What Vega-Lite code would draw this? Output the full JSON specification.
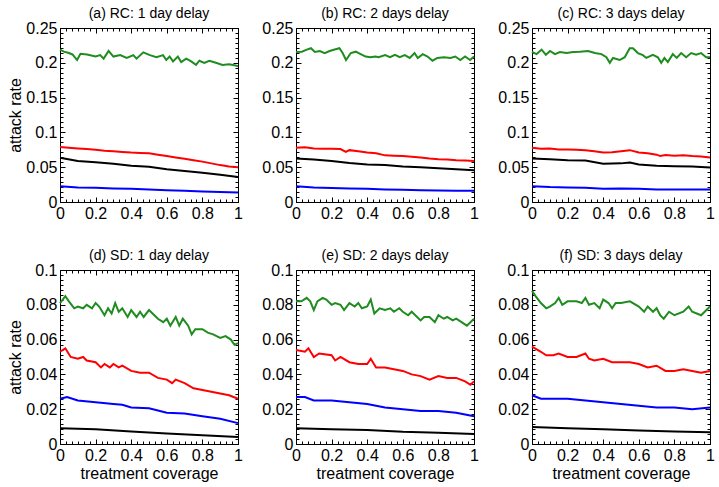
{
"$schema":"https://vega.github.io/schema/vega-lite/v6.json",
"padding":{"left":7,"top":6,"right":0,"bottom":0},
"config":{"font":"Liberation Sans","view":{"stroke":"#000","strokeWidth":1},
"axis":{"grid":false,"domainColor":"#000","tickColor":"#000","labelColor":"#000","labelFontSize":16,"labelFont":"Liberation Sans","titleFont":"Liberation Sans","titleFontSize":16,"titleFontWeight":"normal","titleColor":"#000","labelFlush":false,"labelOverlap":false,"tickWidth":1,"labelPadding":8,"titlePadding":2},
"axisBottom":{"titlePadding":0},
"title":{"fontSize":14,"fontWeight":"normal","font":"Liberation Sans","color":"#000","offset":-1}},
"data":{"values":[
{"p":"a","s":"g","x":0,"y":0.219},{"p":"a","s":"g","x":0.022,"y":0.216},{"p":"a","s":"g","x":0.05,"y":0.214},{"p":"a","s":"g","x":0.07,"y":0.212},{"p":"a","s":"g","x":0.096,"y":0.204},{"p":"a","s":"g","x":0.115,"y":0.213},{"p":"a","s":"g","x":0.152,"y":0.212},{"p":"a","s":"g","x":0.2,"y":0.209},{"p":"a","s":"g","x":0.226,"y":0.211},{"p":"a","s":"g","x":0.245,"y":0.206},{"p":"a","s":"g","x":0.273,"y":0.217},{"p":"a","s":"g","x":0.3,"y":0.209},{"p":"a","s":"g","x":0.338,"y":0.211},{"p":"a","s":"g","x":0.375,"y":0.207},{"p":"a","s":"g","x":0.412,"y":0.211},{"p":"a","s":"g","x":0.43,"y":0.206},{"p":"a","s":"g","x":0.468,"y":0.215},{"p":"a","s":"g","x":0.505,"y":0.211},{"p":"a","s":"g","x":0.542,"y":0.208},{"p":"a","s":"g","x":0.579,"y":0.211},{"p":"a","s":"g","x":0.597,"y":0.204},{"p":"a","s":"g","x":0.616,"y":0.209},{"p":"a","s":"g","x":0.635,"y":0.202},{"p":"a","s":"g","x":0.662,"y":0.209},{"p":"a","s":"g","x":0.681,"y":0.201},{"p":"a","s":"g","x":0.709,"y":0.206},{"p":"a","s":"g","x":0.737,"y":0.202},{"p":"a","s":"g","x":0.764,"y":0.197},{"p":"a","s":"g","x":0.783,"y":0.203},{"p":"a","s":"g","x":0.811,"y":0.2},{"p":"a","s":"g","x":0.839,"y":0.203},{"p":"a","s":"g","x":0.876,"y":0.2},{"p":"a","s":"g","x":0.913,"y":0.197},{"p":"a","s":"g","x":0.95,"y":0.198},{"p":"a","s":"g","x":0.987,"y":0.196},{"p":"a","s":"g","x":1,"y":0.195},
{"p":"a","s":"r","x":0,"y":0.079},{"p":"a","s":"r","x":0.05,"y":0.078},{"p":"a","s":"r","x":0.1,"y":0.077},{"p":"a","s":"r","x":0.15,"y":0.076},{"p":"a","s":"r","x":0.2,"y":0.075},{"p":"a","s":"r","x":0.25,"y":0.0735},{"p":"a","s":"r","x":0.3,"y":0.073},{"p":"a","s":"r","x":0.35,"y":0.072},{"p":"a","s":"r","x":0.4,"y":0.071},{"p":"a","s":"r","x":0.45,"y":0.0705},{"p":"a","s":"r","x":0.5,"y":0.07},{"p":"a","s":"r","x":0.55,"y":0.068},{"p":"a","s":"r","x":0.6,"y":0.066},{"p":"a","s":"r","x":0.65,"y":0.064},{"p":"a","s":"r","x":0.7,"y":0.062},{"p":"a","s":"r","x":0.75,"y":0.06},{"p":"a","s":"r","x":0.8,"y":0.058},{"p":"a","s":"r","x":0.85,"y":0.0555},{"p":"a","s":"r","x":0.9,"y":0.053},{"p":"a","s":"r","x":0.95,"y":0.051},{"p":"a","s":"r","x":1,"y":0.05},
{"p":"a","s":"k","x":0,"y":0.0635},{"p":"a","s":"k","x":0.1,"y":0.059},{"p":"a","s":"k","x":0.2,"y":0.057},{"p":"a","s":"k","x":0.3,"y":0.055},{"p":"a","s":"k","x":0.4,"y":0.052},{"p":"a","s":"k","x":0.5,"y":0.0505},{"p":"a","s":"k","x":0.6,"y":0.047},{"p":"a","s":"k","x":0.7,"y":0.0447},{"p":"a","s":"k","x":0.8,"y":0.042},{"p":"a","s":"k","x":0.9,"y":0.039},{"p":"a","s":"k","x":1,"y":0.036},
{"p":"a","s":"b","x":0,"y":0.0226},{"p":"a","s":"b","x":0.1,"y":0.021},{"p":"a","s":"b","x":0.2,"y":0.0205},{"p":"a","s":"b","x":0.3,"y":0.0195},{"p":"a","s":"b","x":0.4,"y":0.019},{"p":"a","s":"b","x":0.5,"y":0.018},{"p":"a","s":"b","x":0.6,"y":0.017},{"p":"a","s":"b","x":0.7,"y":0.016},{"p":"a","s":"b","x":0.8,"y":0.015},{"p":"a","s":"b","x":0.9,"y":0.0145},{"p":"a","s":"b","x":1,"y":0.0135},
{"p":"b","s":"g","x":0,"y":0.2155},{"p":"b","s":"g","x":0.033,"y":0.216},{"p":"b","s":"g","x":0.061,"y":0.219},{"p":"b","s":"g","x":0.084,"y":0.221},{"p":"b","s":"g","x":0.106,"y":0.2155},{"p":"b","s":"g","x":0.134,"y":0.217},{"p":"b","s":"g","x":0.161,"y":0.214},{"p":"b","s":"g","x":0.189,"y":0.217},{"p":"b","s":"g","x":0.217,"y":0.219},{"p":"b","s":"g","x":0.244,"y":0.221},{"p":"b","s":"g","x":0.262,"y":0.214},{"p":"b","s":"g","x":0.281,"y":0.204},{"p":"b","s":"g","x":0.308,"y":0.214},{"p":"b","s":"g","x":0.336,"y":0.216},{"p":"b","s":"g","x":0.363,"y":0.2125},{"p":"b","s":"g","x":0.391,"y":0.209},{"p":"b","s":"g","x":0.418,"y":0.208},{"p":"b","s":"g","x":0.446,"y":0.209},{"p":"b","s":"g","x":0.464,"y":0.208},{"p":"b","s":"g","x":0.501,"y":0.211},{"p":"b","s":"g","x":0.528,"y":0.208},{"p":"b","s":"g","x":0.556,"y":0.2115},{"p":"b","s":"g","x":0.583,"y":0.208},{"p":"b","s":"g","x":0.611,"y":0.211},{"p":"b","s":"g","x":0.639,"y":0.207},{"p":"b","s":"g","x":0.666,"y":0.214},{"p":"b","s":"g","x":0.684,"y":0.207},{"p":"b","s":"g","x":0.712,"y":0.2125},{"p":"b","s":"g","x":0.739,"y":0.209},{"p":"b","s":"g","x":0.767,"y":0.203},{"p":"b","s":"g","x":0.794,"y":0.207},{"p":"b","s":"g","x":0.831,"y":0.208},{"p":"b","s":"g","x":0.868,"y":0.207},{"p":"b","s":"g","x":0.895,"y":0.209},{"p":"b","s":"g","x":0.923,"y":0.204},{"p":"b","s":"g","x":0.95,"y":0.209},{"p":"b","s":"g","x":0.978,"y":0.204},{"p":"b","s":"g","x":1,"y":0.209},
{"p":"b","s":"r","x":0,"y":0.078},{"p":"b","s":"r","x":0.05,"y":0.0785},{"p":"b","s":"r","x":0.1,"y":0.077},{"p":"b","s":"r","x":0.15,"y":0.0765},{"p":"b","s":"r","x":0.2,"y":0.0765},{"p":"b","s":"r","x":0.25,"y":0.076},{"p":"b","s":"r","x":0.28,"y":0.072},{"p":"b","s":"r","x":0.3,"y":0.0745},{"p":"b","s":"r","x":0.35,"y":0.073},{"p":"b","s":"r","x":0.4,"y":0.071},{"p":"b","s":"r","x":0.45,"y":0.07},{"p":"b","s":"r","x":0.5,"y":0.067},{"p":"b","s":"r","x":0.55,"y":0.0665},{"p":"b","s":"r","x":0.6,"y":0.066},{"p":"b","s":"r","x":0.65,"y":0.065},{"p":"b","s":"r","x":0.7,"y":0.064},{"p":"b","s":"r","x":0.75,"y":0.0625},{"p":"b","s":"r","x":0.8,"y":0.0615},{"p":"b","s":"r","x":0.85,"y":0.061},{"p":"b","s":"r","x":0.9,"y":0.06},{"p":"b","s":"r","x":0.95,"y":0.0595},{"p":"b","s":"r","x":1,"y":0.059},
{"p":"b","s":"k","x":0,"y":0.0625},{"p":"b","s":"k","x":0.1,"y":0.061},{"p":"b","s":"k","x":0.2,"y":0.059},{"p":"b","s":"k","x":0.3,"y":0.056},{"p":"b","s":"k","x":0.4,"y":0.054},{"p":"b","s":"k","x":0.5,"y":0.053},{"p":"b","s":"k","x":0.6,"y":0.051},{"p":"b","s":"k","x":0.7,"y":0.05},{"p":"b","s":"k","x":0.8,"y":0.0485},{"p":"b","s":"k","x":0.9,"y":0.047},{"p":"b","s":"k","x":1,"y":0.0457},
{"p":"b","s":"b","x":0,"y":0.0226},{"p":"b","s":"b","x":0.1,"y":0.021},{"p":"b","s":"b","x":0.2,"y":0.02},{"p":"b","s":"b","x":0.3,"y":0.0195},{"p":"b","s":"b","x":0.4,"y":0.019},{"p":"b","s":"b","x":0.5,"y":0.018},{"p":"b","s":"b","x":0.6,"y":0.0175},{"p":"b","s":"b","x":0.7,"y":0.017},{"p":"b","s":"b","x":0.8,"y":0.0165},{"p":"b","s":"b","x":0.9,"y":0.016},{"p":"b","s":"b","x":1,"y":0.016},
{"p":"c","s":"g","x":0,"y":0.2155},{"p":"c","s":"g","x":0.026,"y":0.2125},{"p":"c","s":"g","x":0.054,"y":0.219},{"p":"c","s":"g","x":0.078,"y":0.2115},{"p":"c","s":"g","x":0.101,"y":0.217},{"p":"c","s":"g","x":0.129,"y":0.2125},{"p":"c","s":"g","x":0.157,"y":0.2155},{"p":"c","s":"g","x":0.194,"y":0.214},{"p":"c","s":"g","x":0.231,"y":0.2155},{"p":"c","s":"g","x":0.269,"y":0.216},{"p":"c","s":"g","x":0.315,"y":0.217},{"p":"c","s":"g","x":0.353,"y":0.214},{"p":"c","s":"g","x":0.39,"y":0.2125},{"p":"c","s":"g","x":0.418,"y":0.208},{"p":"c","s":"g","x":0.437,"y":0.2},{"p":"c","s":"g","x":0.455,"y":0.207},{"p":"c","s":"g","x":0.493,"y":0.204},{"p":"c","s":"g","x":0.521,"y":0.208},{"p":"c","s":"g","x":0.549,"y":0.221},{"p":"c","s":"g","x":0.567,"y":0.221},{"p":"c","s":"g","x":0.595,"y":0.214},{"p":"c","s":"g","x":0.623,"y":0.211},{"p":"c","s":"g","x":0.642,"y":0.207},{"p":"c","s":"g","x":0.679,"y":0.2115},{"p":"c","s":"g","x":0.707,"y":0.208},{"p":"c","s":"g","x":0.726,"y":0.2},{"p":"c","s":"g","x":0.744,"y":0.207},{"p":"c","s":"g","x":0.763,"y":0.201},{"p":"c","s":"g","x":0.791,"y":0.2125},{"p":"c","s":"g","x":0.813,"y":0.207},{"p":"c","s":"g","x":0.838,"y":0.214},{"p":"c","s":"g","x":0.866,"y":0.208},{"p":"c","s":"g","x":0.894,"y":0.214},{"p":"c","s":"g","x":0.922,"y":0.2115},{"p":"c","s":"g","x":0.95,"y":0.214},{"p":"c","s":"g","x":0.978,"y":0.208},{"p":"c","s":"g","x":1,"y":0.208},
{"p":"c","s":"r","x":0,"y":0.078},{"p":"c","s":"r","x":0.05,"y":0.0765},{"p":"c","s":"r","x":0.1,"y":0.077},{"p":"c","s":"r","x":0.15,"y":0.0755},{"p":"c","s":"r","x":0.2,"y":0.0755},{"p":"c","s":"r","x":0.25,"y":0.075},{"p":"c","s":"r","x":0.3,"y":0.0745},{"p":"c","s":"r","x":0.35,"y":0.073},{"p":"c","s":"r","x":0.4,"y":0.071},{"p":"c","s":"r","x":0.45,"y":0.0715},{"p":"c","s":"r","x":0.5,"y":0.073},{"p":"c","s":"r","x":0.55,"y":0.0745},{"p":"c","s":"r","x":0.6,"y":0.071},{"p":"c","s":"r","x":0.65,"y":0.07},{"p":"c","s":"r","x":0.7,"y":0.068},{"p":"c","s":"r","x":0.72,"y":0.066},{"p":"c","s":"r","x":0.75,"y":0.0675},{"p":"c","s":"r","x":0.8,"y":0.0665},{"p":"c","s":"r","x":0.85,"y":0.067},{"p":"c","s":"r","x":0.9,"y":0.066},{"p":"c","s":"r","x":0.95,"y":0.0655},{"p":"c","s":"r","x":1,"y":0.064},
{"p":"c","s":"k","x":0,"y":0.0625},{"p":"c","s":"k","x":0.1,"y":0.0615},{"p":"c","s":"k","x":0.2,"y":0.06},{"p":"c","s":"k","x":0.3,"y":0.0595},{"p":"c","s":"k","x":0.4,"y":0.055},{"p":"c","s":"k","x":0.5,"y":0.0555},{"p":"c","s":"k","x":0.55,"y":0.0567},{"p":"c","s":"k","x":0.6,"y":0.054},{"p":"c","s":"k","x":0.7,"y":0.052},{"p":"c","s":"k","x":0.8,"y":0.0515},{"p":"c","s":"k","x":0.9,"y":0.051},{"p":"c","s":"k","x":1,"y":0.0495},
{"p":"c","s":"b","x":0,"y":0.0226},{"p":"c","s":"b","x":0.1,"y":0.0215},{"p":"c","s":"b","x":0.2,"y":0.021},{"p":"c","s":"b","x":0.3,"y":0.0205},{"p":"c","s":"b","x":0.4,"y":0.019},{"p":"c","s":"b","x":0.5,"y":0.0195},{"p":"c","s":"b","x":0.6,"y":0.019},{"p":"c","s":"b","x":0.7,"y":0.018},{"p":"c","s":"b","x":0.8,"y":0.018},{"p":"c","s":"b","x":0.9,"y":0.018},{"p":"c","s":"b","x":1,"y":0.0178},
{"p":"d","s":"g","x":0,"y":0.081},{"p":"d","s":"g","x":0.03,"y":0.085},{"p":"d","s":"g","x":0.05,"y":0.082},{"p":"d","s":"g","x":0.08,"y":0.078},{"p":"d","s":"g","x":0.1,"y":0.079},{"p":"d","s":"g","x":0.13,"y":0.078},{"p":"d","s":"g","x":0.15,"y":0.08},{"p":"d","s":"g","x":0.18,"y":0.078},{"p":"d","s":"g","x":0.2,"y":0.081},{"p":"d","s":"g","x":0.22,"y":0.079},{"p":"d","s":"g","x":0.25,"y":0.074},{"p":"d","s":"g","x":0.27,"y":0.078},{"p":"d","s":"g","x":0.29,"y":0.075},{"p":"d","s":"g","x":0.31,"y":0.081},{"p":"d","s":"g","x":0.33,"y":0.076},{"p":"d","s":"g","x":0.35,"y":0.078},{"p":"d","s":"g","x":0.38,"y":0.073},{"p":"d","s":"g","x":0.4,"y":0.077},{"p":"d","s":"g","x":0.43,"y":0.073},{"p":"d","s":"g","x":0.45,"y":0.076},{"p":"d","s":"g","x":0.47,"y":0.073},{"p":"d","s":"g","x":0.5,"y":0.077},{"p":"d","s":"g","x":0.53,"y":0.074},{"p":"d","s":"g","x":0.55,"y":0.072},{"p":"d","s":"g","x":0.58,"y":0.07},{"p":"d","s":"g","x":0.6,"y":0.072},{"p":"d","s":"g","x":0.62,"y":0.068},{"p":"d","s":"g","x":0.65,"y":0.073},{"p":"d","s":"g","x":0.67,"y":0.068},{"p":"d","s":"g","x":0.69,"y":0.072},{"p":"d","s":"g","x":0.72,"y":0.068},{"p":"d","s":"g","x":0.74,"y":0.063},{"p":"d","s":"g","x":0.76,"y":0.066},{"p":"d","s":"g","x":0.8,"y":0.066},{"p":"d","s":"g","x":0.83,"y":0.064},{"p":"d","s":"g","x":0.86,"y":0.063},{"p":"d","s":"g","x":0.88,"y":0.062},{"p":"d","s":"g","x":0.9,"y":0.061},{"p":"d","s":"g","x":0.93,"y":0.062},{"p":"d","s":"g","x":0.96,"y":0.06},{"p":"d","s":"g","x":0.98,"y":0.057},{"p":"d","s":"g","x":1,"y":0.058},
{"p":"d","s":"r","x":0,"y":0.053},{"p":"d","s":"r","x":0.03,"y":0.055},{"p":"d","s":"r","x":0.06,"y":0.05},{"p":"d","s":"r","x":0.1,"y":0.049},{"p":"d","s":"r","x":0.13,"y":0.05},{"p":"d","s":"r","x":0.15,"y":0.048},{"p":"d","s":"r","x":0.2,"y":0.047},{"p":"d","s":"r","x":0.23,"y":0.044},{"p":"d","s":"r","x":0.25,"y":0.046},{"p":"d","s":"r","x":0.28,"y":0.044},{"p":"d","s":"r","x":0.3,"y":0.046},{"p":"d","s":"r","x":0.33,"y":0.044},{"p":"d","s":"r","x":0.35,"y":0.045},{"p":"d","s":"r","x":0.4,"y":0.042},{"p":"d","s":"r","x":0.45,"y":0.041},{"p":"d","s":"r","x":0.5,"y":0.041},{"p":"d","s":"r","x":0.55,"y":0.038},{"p":"d","s":"r","x":0.6,"y":0.037},{"p":"d","s":"r","x":0.63,"y":0.035},{"p":"d","s":"r","x":0.65,"y":0.037},{"p":"d","s":"r","x":0.7,"y":0.035},{"p":"d","s":"r","x":0.75,"y":0.032},{"p":"d","s":"r","x":0.8,"y":0.031},{"p":"d","s":"r","x":0.85,"y":0.03},{"p":"d","s":"r","x":0.9,"y":0.029},{"p":"d","s":"r","x":0.95,"y":0.028},{"p":"d","s":"r","x":1,"y":0.026},
{"p":"d","s":"b","x":0,"y":0.026},{"p":"d","s":"b","x":0.04,"y":0.027},{"p":"d","s":"b","x":0.1,"y":0.025},{"p":"d","s":"b","x":0.2,"y":0.024},{"p":"d","s":"b","x":0.3,"y":0.023},{"p":"d","s":"b","x":0.35,"y":0.0225},{"p":"d","s":"b","x":0.4,"y":0.021},{"p":"d","s":"b","x":0.5,"y":0.0205},{"p":"d","s":"b","x":0.6,"y":0.018},{"p":"d","s":"b","x":0.7,"y":0.0175},{"p":"d","s":"b","x":0.8,"y":0.016},{"p":"d","s":"b","x":0.9,"y":0.0145},{"p":"d","s":"b","x":1,"y":0.012},
{"p":"d","s":"k","x":0,"y":0.009},{"p":"d","s":"k","x":0.2,"y":0.0085},{"p":"d","s":"k","x":0.4,"y":0.0072},{"p":"d","s":"k","x":0.6,"y":0.006},{"p":"d","s":"k","x":0.8,"y":0.005},{"p":"d","s":"k","x":1,"y":0.004},
{"p":"e","s":"g","x":0,"y":0.082},{"p":"e","s":"g","x":0.03,"y":0.082},{"p":"e","s":"g","x":0.06,"y":0.084},{"p":"e","s":"g","x":0.08,"y":0.082},{"p":"e","s":"g","x":0.1,"y":0.077},{"p":"e","s":"g","x":0.12,"y":0.082},{"p":"e","s":"g","x":0.15,"y":0.084},{"p":"e","s":"g","x":0.17,"y":0.083},{"p":"e","s":"g","x":0.2,"y":0.08},{"p":"e","s":"g","x":0.22,"y":0.081},{"p":"e","s":"g","x":0.25,"y":0.08},{"p":"e","s":"g","x":0.27,"y":0.077},{"p":"e","s":"g","x":0.3,"y":0.081},{"p":"e","s":"g","x":0.33,"y":0.079},{"p":"e","s":"g","x":0.35,"y":0.081},{"p":"e","s":"g","x":0.37,"y":0.078},{"p":"e","s":"g","x":0.4,"y":0.079},{"p":"e","s":"g","x":0.42,"y":0.083},{"p":"e","s":"g","x":0.44,"y":0.075},{"p":"e","s":"g","x":0.47,"y":0.078},{"p":"e","s":"g","x":0.5,"y":0.077},{"p":"e","s":"g","x":0.53,"y":0.078},{"p":"e","s":"g","x":0.55,"y":0.076},{"p":"e","s":"g","x":0.58,"y":0.078},{"p":"e","s":"g","x":0.6,"y":0.076},{"p":"e","s":"g","x":0.63,"y":0.074},{"p":"e","s":"g","x":0.65,"y":0.076},{"p":"e","s":"g","x":0.7,"y":0.071},{"p":"e","s":"g","x":0.72,"y":0.073},{"p":"e","s":"g","x":0.75,"y":0.073},{"p":"e","s":"g","x":0.78,"y":0.07},{"p":"e","s":"g","x":0.8,"y":0.074},{"p":"e","s":"g","x":0.83,"y":0.072},{"p":"e","s":"g","x":0.85,"y":0.073},{"p":"e","s":"g","x":0.88,"y":0.071},{"p":"e","s":"g","x":0.9,"y":0.072},{"p":"e","s":"g","x":0.93,"y":0.07},{"p":"e","s":"g","x":0.96,"y":0.068},{"p":"e","s":"g","x":0.98,"y":0.07},{"p":"e","s":"g","x":1,"y":0.072},
{"p":"e","s":"r","x":0,"y":0.054},{"p":"e","s":"r","x":0.05,"y":0.053},{"p":"e","s":"r","x":0.07,"y":0.055},{"p":"e","s":"r","x":0.1,"y":0.05},{"p":"e","s":"r","x":0.13,"y":0.052},{"p":"e","s":"r","x":0.2,"y":0.051},{"p":"e","s":"r","x":0.22,"y":0.048},{"p":"e","s":"r","x":0.25,"y":0.05},{"p":"e","s":"r","x":0.3,"y":0.047},{"p":"e","s":"r","x":0.35,"y":0.046},{"p":"e","s":"r","x":0.4,"y":0.046},{"p":"e","s":"r","x":0.42,"y":0.049},{"p":"e","s":"r","x":0.45,"y":0.044},{"p":"e","s":"r","x":0.5,"y":0.044},{"p":"e","s":"r","x":0.55,"y":0.043},{"p":"e","s":"r","x":0.6,"y":0.042},{"p":"e","s":"r","x":0.65,"y":0.04},{"p":"e","s":"r","x":0.7,"y":0.039},{"p":"e","s":"r","x":0.75,"y":0.037},{"p":"e","s":"r","x":0.8,"y":0.039},{"p":"e","s":"r","x":0.85,"y":0.038},{"p":"e","s":"r","x":0.9,"y":0.038},{"p":"e","s":"r","x":0.95,"y":0.036},{"p":"e","s":"r","x":0.98,"y":0.034},{"p":"e","s":"r","x":1,"y":0.036},
{"p":"e","s":"b","x":0,"y":0.027},{"p":"e","s":"b","x":0.05,"y":0.027},{"p":"e","s":"b","x":0.1,"y":0.025},{"p":"e","s":"b","x":0.2,"y":0.025},{"p":"e","s":"b","x":0.3,"y":0.024},{"p":"e","s":"b","x":0.4,"y":0.023},{"p":"e","s":"b","x":0.45,"y":0.022},{"p":"e","s":"b","x":0.5,"y":0.021},{"p":"e","s":"b","x":0.6,"y":0.02},{"p":"e","s":"b","x":0.7,"y":0.019},{"p":"e","s":"b","x":0.8,"y":0.019},{"p":"e","s":"b","x":0.9,"y":0.018},{"p":"e","s":"b","x":1,"y":0.016},
{"p":"e","s":"k","x":0,"y":0.009},{"p":"e","s":"k","x":0.2,"y":0.0085},{"p":"e","s":"k","x":0.4,"y":0.008},{"p":"e","s":"k","x":0.6,"y":0.007},{"p":"e","s":"k","x":0.8,"y":0.0065},{"p":"e","s":"k","x":1,"y":0.0058},
{"p":"f","s":"g","x":0,"y":0.088},{"p":"f","s":"g","x":0.02,"y":0.085},{"p":"f","s":"g","x":0.05,"y":0.081},{"p":"f","s":"g","x":0.08,"y":0.078},{"p":"f","s":"g","x":0.1,"y":0.079},{"p":"f","s":"g","x":0.13,"y":0.081},{"p":"f","s":"g","x":0.15,"y":0.084},{"p":"f","s":"g","x":0.17,"y":0.08},{"p":"f","s":"g","x":0.2,"y":0.082},{"p":"f","s":"g","x":0.25,"y":0.082},{"p":"f","s":"g","x":0.28,"y":0.081},{"p":"f","s":"g","x":0.3,"y":0.084},{"p":"f","s":"g","x":0.32,"y":0.08},{"p":"f","s":"g","x":0.35,"y":0.081},{"p":"f","s":"g","x":0.38,"y":0.078},{"p":"f","s":"g","x":0.4,"y":0.083},{"p":"f","s":"g","x":0.43,"y":0.081},{"p":"f","s":"g","x":0.45,"y":0.078},{"p":"f","s":"g","x":0.47,"y":0.081},{"p":"f","s":"g","x":0.5,"y":0.081},{"p":"f","s":"g","x":0.55,"y":0.082},{"p":"f","s":"g","x":0.6,"y":0.079},{"p":"f","s":"g","x":0.63,"y":0.076},{"p":"f","s":"g","x":0.65,"y":0.079},{"p":"f","s":"g","x":0.68,"y":0.076},{"p":"f","s":"g","x":0.7,"y":0.078},{"p":"f","s":"g","x":0.72,"y":0.074},{"p":"f","s":"g","x":0.74,"y":0.072},{"p":"f","s":"g","x":0.77,"y":0.076},{"p":"f","s":"g","x":0.8,"y":0.074},{"p":"f","s":"g","x":0.85,"y":0.076},{"p":"f","s":"g","x":0.88,"y":0.079},{"p":"f","s":"g","x":0.9,"y":0.076},{"p":"f","s":"g","x":0.95,"y":0.074},{"p":"f","s":"g","x":1,"y":0.079},
{"p":"f","s":"r","x":0,"y":0.056},{"p":"f","s":"r","x":0.05,"y":0.053},{"p":"f","s":"r","x":0.08,"y":0.051},{"p":"f","s":"r","x":0.12,"y":0.051},{"p":"f","s":"r","x":0.15,"y":0.052},{"p":"f","s":"r","x":0.2,"y":0.05},{"p":"f","s":"r","x":0.25,"y":0.05},{"p":"f","s":"r","x":0.3,"y":0.052},{"p":"f","s":"r","x":0.32,"y":0.049},{"p":"f","s":"r","x":0.35,"y":0.048},{"p":"f","s":"r","x":0.4,"y":0.049},{"p":"f","s":"r","x":0.45,"y":0.047},{"p":"f","s":"r","x":0.5,"y":0.047},{"p":"f","s":"r","x":0.55,"y":0.047},{"p":"f","s":"r","x":0.6,"y":0.046},{"p":"f","s":"r","x":0.65,"y":0.044},{"p":"f","s":"r","x":0.7,"y":0.045},{"p":"f","s":"r","x":0.75,"y":0.042},{"p":"f","s":"r","x":0.8,"y":0.042},{"p":"f","s":"r","x":0.85,"y":0.043},{"p":"f","s":"r","x":0.9,"y":0.042},{"p":"f","s":"r","x":0.95,"y":0.041},{"p":"f","s":"r","x":1,"y":0.042},
{"p":"f","s":"b","x":0,"y":0.028},{"p":"f","s":"b","x":0.05,"y":0.026},{"p":"f","s":"b","x":0.1,"y":0.026},{"p":"f","s":"b","x":0.2,"y":0.026},{"p":"f","s":"b","x":0.3,"y":0.025},{"p":"f","s":"b","x":0.4,"y":0.024},{"p":"f","s":"b","x":0.5,"y":0.023},{"p":"f","s":"b","x":0.6,"y":0.022},{"p":"f","s":"b","x":0.7,"y":0.021},{"p":"f","s":"b","x":0.8,"y":0.021},{"p":"f","s":"b","x":0.9,"y":0.02},{"p":"f","s":"b","x":1,"y":0.021},
{"p":"f","s":"k","x":0,"y":0.0098},{"p":"f","s":"k","x":0.2,"y":0.009},{"p":"f","s":"k","x":0.4,"y":0.0085},{"p":"f","s":"k","x":0.6,"y":0.0078},{"p":"f","s":"k","x":0.8,"y":0.0072},{"p":"f","s":"k","x":1,"y":0.0068}
]},
"columns":3,
"spacing":{"row":24,"column":18},
"concat":[
{"width":178,"height":174,"title":"(a) RC: 1 day delay","transform":[{"filter":"datum.p=='a'"}],
"layer":[
{"mark":{"type":"line","strokeWidth":2},"encoding":{
"x":{"field":"x","type":"quantitative","scale":{"domain":[0,1],"nice":false},"axis":{"orient":"bottom","title":null,"values":[0,0.0333,0.0667,0.1,0.1333,0.1667,0.2,0.2333,0.2667,0.3,0.3333,0.3667,0.4,0.4333,0.4667,0.5,0.5333,0.5667,0.6,0.6333,0.6667,0.7,0.7333,0.7667,0.8,0.8333,0.8667,0.9,0.9333,0.9667,1],"labelExpr":"abs(datum.value*5-round(datum.value*5))<0.001 ? format(datum.value,'~g') : ''","tickSize":{"condition":{"test":"abs(datum.value*5-round(datum.value*5))<0.001","value":-5},"value":-3}}},
"y":{"field":"y","type":"quantitative","scale":{"domain":[0,0.25],"nice":false},"axis":{"orient":"left","title":"attack rate","values":[0,0.00714,0.01429,0.02143,0.02857,0.03571,0.04286,0.05,0.05714,0.06429,0.07143,0.07857,0.08571,0.09286,0.1,0.10714,0.11429,0.12143,0.12857,0.13571,0.14286,0.15,0.15714,0.16429,0.17143,0.17857,0.18571,0.19286,0.2,0.20714,0.21429,0.22143,0.22857,0.23571,0.24286,0.25],"labelExpr":"abs(datum.value*20-round(datum.value*20))<0.001 ? format(datum.value,'~g') : ''","tickSize":{"condition":{"test":"abs(datum.value*20-round(datum.value*20))<0.001","value":-5},"value":-3}}},
"color":{"field":"s","type":"nominal","scale":{"domain":["g","r","k","b"],"range":["#1e8c1e","#ff0000","#000000","#0000ff"]},"legend":null}}},
{"mark":{"type":"line","opacity":0},"encoding":{
"x":{"field":"x","type":"quantitative","scale":{"domain":[0,1],"nice":false},"axis":{"orient":"top","title":null,"labels":false,"values":[0,0.0333,0.0667,0.1,0.1333,0.1667,0.2,0.2333,0.2667,0.3,0.3333,0.3667,0.4,0.4333,0.4667,0.5,0.5333,0.5667,0.6,0.6333,0.6667,0.7,0.7333,0.7667,0.8,0.8333,0.8667,0.9,0.9333,0.9667,1],"tickSize":{"condition":{"test":"abs(datum.value*5-round(datum.value*5))<0.001","value":-5},"value":-3}}},
"y":{"field":"y","type":"quantitative","scale":{"domain":[0,0.25],"nice":false},"axis":{"orient":"right","title":null,"labels":false,"values":[0,0.00714,0.01429,0.02143,0.02857,0.03571,0.04286,0.05,0.05714,0.06429,0.07143,0.07857,0.08571,0.09286,0.1,0.10714,0.11429,0.12143,0.12857,0.13571,0.14286,0.15,0.15714,0.16429,0.17143,0.17857,0.18571,0.19286,0.2,0.20714,0.21429,0.22143,0.22857,0.23571,0.24286,0.25],"tickSize":{"condition":{"test":"abs(datum.value*20-round(datum.value*20))<0.001","value":-5},"value":-3}}},
"detail":{"field":"s"}}}
],"resolve":{"axis":{"x":"independent","y":"independent"}}},
{"width":178,"height":174,"title":"(b) RC: 2 days delay","transform":[{"filter":"datum.p=='b'"}],
"layer":[
{"mark":{"type":"line","strokeWidth":2},"encoding":{
"x":{"field":"x","type":"quantitative","scale":{"domain":[0,1],"nice":false},"axis":{"orient":"bottom","title":null,"values":[0,0.0333,0.0667,0.1,0.1333,0.1667,0.2,0.2333,0.2667,0.3,0.3333,0.3667,0.4,0.4333,0.4667,0.5,0.5333,0.5667,0.6,0.6333,0.6667,0.7,0.7333,0.7667,0.8,0.8333,0.8667,0.9,0.9333,0.9667,1],"labelExpr":"abs(datum.value*5-round(datum.value*5))<0.001 ? format(datum.value,'~g') : ''","tickSize":{"condition":{"test":"abs(datum.value*5-round(datum.value*5))<0.001","value":-5},"value":-3}}},
"y":{"field":"y","type":"quantitative","scale":{"domain":[0,0.25],"nice":false},"axis":{"orient":"left","title":null,"values":[0,0.00714,0.01429,0.02143,0.02857,0.03571,0.04286,0.05,0.05714,0.06429,0.07143,0.07857,0.08571,0.09286,0.1,0.10714,0.11429,0.12143,0.12857,0.13571,0.14286,0.15,0.15714,0.16429,0.17143,0.17857,0.18571,0.19286,0.2,0.20714,0.21429,0.22143,0.22857,0.23571,0.24286,0.25],"labelExpr":"abs(datum.value*20-round(datum.value*20))<0.001 ? format(datum.value,'~g') : ''","tickSize":{"condition":{"test":"abs(datum.value*20-round(datum.value*20))<0.001","value":-5},"value":-3}}},
"color":{"field":"s","type":"nominal","scale":{"domain":["g","r","k","b"],"range":["#1e8c1e","#ff0000","#000000","#0000ff"]},"legend":null}}},
{"mark":{"type":"line","opacity":0},"encoding":{
"x":{"field":"x","type":"quantitative","scale":{"domain":[0,1],"nice":false},"axis":{"orient":"top","title":null,"labels":false,"values":[0,0.0333,0.0667,0.1,0.1333,0.1667,0.2,0.2333,0.2667,0.3,0.3333,0.3667,0.4,0.4333,0.4667,0.5,0.5333,0.5667,0.6,0.6333,0.6667,0.7,0.7333,0.7667,0.8,0.8333,0.8667,0.9,0.9333,0.9667,1],"tickSize":{"condition":{"test":"abs(datum.value*5-round(datum.value*5))<0.001","value":-5},"value":-3}}},
"y":{"field":"y","type":"quantitative","scale":{"domain":[0,0.25],"nice":false},"axis":{"orient":"right","title":null,"labels":false,"values":[0,0.00714,0.01429,0.02143,0.02857,0.03571,0.04286,0.05,0.05714,0.06429,0.07143,0.07857,0.08571,0.09286,0.1,0.10714,0.11429,0.12143,0.12857,0.13571,0.14286,0.15,0.15714,0.16429,0.17143,0.17857,0.18571,0.19286,0.2,0.20714,0.21429,0.22143,0.22857,0.23571,0.24286,0.25],"tickSize":{"condition":{"test":"abs(datum.value*20-round(datum.value*20))<0.001","value":-5},"value":-3}}},
"detail":{"field":"s"}}}
],"resolve":{"axis":{"x":"independent","y":"independent"}}},
{"width":178,"height":174,"title":"(c) RC: 3 days delay","transform":[{"filter":"datum.p=='c'"}],
"layer":[
{"mark":{"type":"line","strokeWidth":2},"encoding":{
"x":{"field":"x","type":"quantitative","scale":{"domain":[0,1],"nice":false},"axis":{"orient":"bottom","title":null,"values":[0,0.0333,0.0667,0.1,0.1333,0.1667,0.2,0.2333,0.2667,0.3,0.3333,0.3667,0.4,0.4333,0.4667,0.5,0.5333,0.5667,0.6,0.6333,0.6667,0.7,0.7333,0.7667,0.8,0.8333,0.8667,0.9,0.9333,0.9667,1],"labelExpr":"abs(datum.value*5-round(datum.value*5))<0.001 ? format(datum.value,'~g') : ''","tickSize":{"condition":{"test":"abs(datum.value*5-round(datum.value*5))<0.001","value":-5},"value":-3}}},
"y":{"field":"y","type":"quantitative","scale":{"domain":[0,0.25],"nice":false},"axis":{"orient":"left","title":null,"values":[0,0.00714,0.01429,0.02143,0.02857,0.03571,0.04286,0.05,0.05714,0.06429,0.07143,0.07857,0.08571,0.09286,0.1,0.10714,0.11429,0.12143,0.12857,0.13571,0.14286,0.15,0.15714,0.16429,0.17143,0.17857,0.18571,0.19286,0.2,0.20714,0.21429,0.22143,0.22857,0.23571,0.24286,0.25],"labelExpr":"abs(datum.value*20-round(datum.value*20))<0.001 ? format(datum.value,'~g') : ''","tickSize":{"condition":{"test":"abs(datum.value*20-round(datum.value*20))<0.001","value":-5},"value":-3}}},
"color":{"field":"s","type":"nominal","scale":{"domain":["g","r","k","b"],"range":["#1e8c1e","#ff0000","#000000","#0000ff"]},"legend":null}}},
{"mark":{"type":"line","opacity":0},"encoding":{
"x":{"field":"x","type":"quantitative","scale":{"domain":[0,1],"nice":false},"axis":{"orient":"top","title":null,"labels":false,"values":[0,0.0333,0.0667,0.1,0.1333,0.1667,0.2,0.2333,0.2667,0.3,0.3333,0.3667,0.4,0.4333,0.4667,0.5,0.5333,0.5667,0.6,0.6333,0.6667,0.7,0.7333,0.7667,0.8,0.8333,0.8667,0.9,0.9333,0.9667,1],"tickSize":{"condition":{"test":"abs(datum.value*5-round(datum.value*5))<0.001","value":-5},"value":-3}}},
"y":{"field":"y","type":"quantitative","scale":{"domain":[0,0.25],"nice":false},"axis":{"orient":"right","title":null,"labels":false,"values":[0,0.00714,0.01429,0.02143,0.02857,0.03571,0.04286,0.05,0.05714,0.06429,0.07143,0.07857,0.08571,0.09286,0.1,0.10714,0.11429,0.12143,0.12857,0.13571,0.14286,0.15,0.15714,0.16429,0.17143,0.17857,0.18571,0.19286,0.2,0.20714,0.21429,0.22143,0.22857,0.23571,0.24286,0.25],"tickSize":{"condition":{"test":"abs(datum.value*20-round(datum.value*20))<0.001","value":-5},"value":-3}}},
"detail":{"field":"s"}}}
],"resolve":{"axis":{"x":"independent","y":"independent"}}},
{"width":178,"height":174,"title":"(d) SD: 1 day delay","transform":[{"filter":"datum.p=='d'"}],
"layer":[
{"mark":{"type":"line","strokeWidth":2},"encoding":{
"x":{"field":"x","type":"quantitative","scale":{"domain":[0,1],"nice":false},"axis":{"orient":"bottom","title":"treatment coverage","values":[0,0.0333,0.0667,0.1,0.1333,0.1667,0.2,0.2333,0.2667,0.3,0.3333,0.3667,0.4,0.4333,0.4667,0.5,0.5333,0.5667,0.6,0.6333,0.6667,0.7,0.7333,0.7667,0.8,0.8333,0.8667,0.9,0.9333,0.9667,1],"labelExpr":"abs(datum.value*5-round(datum.value*5))<0.001 ? format(datum.value,'~g') : ''","tickSize":{"condition":{"test":"abs(datum.value*5-round(datum.value*5))<0.001","value":-5},"value":-3}}},
"y":{"field":"y","type":"quantitative","scale":{"domain":[0,0.1],"nice":false},"axis":{"orient":"left","title":"attack rate","values":[0,0.00286,0.00571,0.00857,0.01143,0.01429,0.01714,0.02,0.02286,0.02571,0.02857,0.03143,0.03429,0.03714,0.04,0.04286,0.04571,0.04857,0.05143,0.05429,0.05714,0.06,0.06286,0.06571,0.06857,0.07143,0.07429,0.07714,0.08,0.08286,0.08571,0.08857,0.09143,0.09429,0.09714,0.1],"labelExpr":"abs(datum.value*50-round(datum.value*50))<0.001 ? format(datum.value,'~g') : ''","tickSize":{"condition":{"test":"abs(datum.value*50-round(datum.value*50))<0.001","value":-5},"value":-3}}},
"color":{"field":"s","type":"nominal","scale":{"domain":["g","r","k","b"],"range":["#1e8c1e","#ff0000","#000000","#0000ff"]},"legend":null}}},
{"mark":{"type":"line","opacity":0},"encoding":{
"x":{"field":"x","type":"quantitative","scale":{"domain":[0,1],"nice":false},"axis":{"orient":"top","title":null,"labels":false,"values":[0,0.0333,0.0667,0.1,0.1333,0.1667,0.2,0.2333,0.2667,0.3,0.3333,0.3667,0.4,0.4333,0.4667,0.5,0.5333,0.5667,0.6,0.6333,0.6667,0.7,0.7333,0.7667,0.8,0.8333,0.8667,0.9,0.9333,0.9667,1],"tickSize":{"condition":{"test":"abs(datum.value*5-round(datum.value*5))<0.001","value":-5},"value":-3}}},
"y":{"field":"y","type":"quantitative","scale":{"domain":[0,0.1],"nice":false},"axis":{"orient":"right","title":null,"labels":false,"values":[0,0.00286,0.00571,0.00857,0.01143,0.01429,0.01714,0.02,0.02286,0.02571,0.02857,0.03143,0.03429,0.03714,0.04,0.04286,0.04571,0.04857,0.05143,0.05429,0.05714,0.06,0.06286,0.06571,0.06857,0.07143,0.07429,0.07714,0.08,0.08286,0.08571,0.08857,0.09143,0.09429,0.09714,0.1],"tickSize":{"condition":{"test":"abs(datum.value*50-round(datum.value*50))<0.001","value":-5},"value":-3}}},
"detail":{"field":"s"}}}
],"resolve":{"axis":{"x":"independent","y":"independent"}}},
{"width":178,"height":174,"title":"(e) SD: 2 days delay","transform":[{"filter":"datum.p=='e'"}],
"layer":[
{"mark":{"type":"line","strokeWidth":2},"encoding":{
"x":{"field":"x","type":"quantitative","scale":{"domain":[0,1],"nice":false},"axis":{"orient":"bottom","title":"treatment coverage","values":[0,0.0333,0.0667,0.1,0.1333,0.1667,0.2,0.2333,0.2667,0.3,0.3333,0.3667,0.4,0.4333,0.4667,0.5,0.5333,0.5667,0.6,0.6333,0.6667,0.7,0.7333,0.7667,0.8,0.8333,0.8667,0.9,0.9333,0.9667,1],"labelExpr":"abs(datum.value*5-round(datum.value*5))<0.001 ? format(datum.value,'~g') : ''","tickSize":{"condition":{"test":"abs(datum.value*5-round(datum.value*5))<0.001","value":-5},"value":-3}}},
"y":{"field":"y","type":"quantitative","scale":{"domain":[0,0.1],"nice":false},"axis":{"orient":"left","title":null,"values":[0,0.00286,0.00571,0.00857,0.01143,0.01429,0.01714,0.02,0.02286,0.02571,0.02857,0.03143,0.03429,0.03714,0.04,0.04286,0.04571,0.04857,0.05143,0.05429,0.05714,0.06,0.06286,0.06571,0.06857,0.07143,0.07429,0.07714,0.08,0.08286,0.08571,0.08857,0.09143,0.09429,0.09714,0.1],"labelExpr":"abs(datum.value*50-round(datum.value*50))<0.001 ? format(datum.value,'~g') : ''","tickSize":{"condition":{"test":"abs(datum.value*50-round(datum.value*50))<0.001","value":-5},"value":-3}}},
"color":{"field":"s","type":"nominal","scale":{"domain":["g","r","k","b"],"range":["#1e8c1e","#ff0000","#000000","#0000ff"]},"legend":null}}},
{"mark":{"type":"line","opacity":0},"encoding":{
"x":{"field":"x","type":"quantitative","scale":{"domain":[0,1],"nice":false},"axis":{"orient":"top","title":null,"labels":false,"values":[0,0.0333,0.0667,0.1,0.1333,0.1667,0.2,0.2333,0.2667,0.3,0.3333,0.3667,0.4,0.4333,0.4667,0.5,0.5333,0.5667,0.6,0.6333,0.6667,0.7,0.7333,0.7667,0.8,0.8333,0.8667,0.9,0.9333,0.9667,1],"tickSize":{"condition":{"test":"abs(datum.value*5-round(datum.value*5))<0.001","value":-5},"value":-3}}},
"y":{"field":"y","type":"quantitative","scale":{"domain":[0,0.1],"nice":false},"axis":{"orient":"right","title":null,"labels":false,"values":[0,0.00286,0.00571,0.00857,0.01143,0.01429,0.01714,0.02,0.02286,0.02571,0.02857,0.03143,0.03429,0.03714,0.04,0.04286,0.04571,0.04857,0.05143,0.05429,0.05714,0.06,0.06286,0.06571,0.06857,0.07143,0.07429,0.07714,0.08,0.08286,0.08571,0.08857,0.09143,0.09429,0.09714,0.1],"tickSize":{"condition":{"test":"abs(datum.value*50-round(datum.value*50))<0.001","value":-5},"value":-3}}},
"detail":{"field":"s"}}}
],"resolve":{"axis":{"x":"independent","y":"independent"}}},
{"width":178,"height":174,"title":"(f) SD: 3 days delay","transform":[{"filter":"datum.p=='f'"}],
"layer":[
{"mark":{"type":"line","strokeWidth":2},"encoding":{
"x":{"field":"x","type":"quantitative","scale":{"domain":[0,1],"nice":false},"axis":{"orient":"bottom","title":"treatment coverage","values":[0,0.0333,0.0667,0.1,0.1333,0.1667,0.2,0.2333,0.2667,0.3,0.3333,0.3667,0.4,0.4333,0.4667,0.5,0.5333,0.5667,0.6,0.6333,0.6667,0.7,0.7333,0.7667,0.8,0.8333,0.8667,0.9,0.9333,0.9667,1],"labelExpr":"abs(datum.value*5-round(datum.value*5))<0.001 ? format(datum.value,'~g') : ''","tickSize":{"condition":{"test":"abs(datum.value*5-round(datum.value*5))<0.001","value":-5},"value":-3}}},
"y":{"field":"y","type":"quantitative","scale":{"domain":[0,0.1],"nice":false},"axis":{"orient":"left","title":null,"values":[0,0.00286,0.00571,0.00857,0.01143,0.01429,0.01714,0.02,0.02286,0.02571,0.02857,0.03143,0.03429,0.03714,0.04,0.04286,0.04571,0.04857,0.05143,0.05429,0.05714,0.06,0.06286,0.06571,0.06857,0.07143,0.07429,0.07714,0.08,0.08286,0.08571,0.08857,0.09143,0.09429,0.09714,0.1],"labelExpr":"abs(datum.value*50-round(datum.value*50))<0.001 ? format(datum.value,'~g') : ''","tickSize":{"condition":{"test":"abs(datum.value*50-round(datum.value*50))<0.001","value":-5},"value":-3}}},
"color":{"field":"s","type":"nominal","scale":{"domain":["g","r","k","b"],"range":["#1e8c1e","#ff0000","#000000","#0000ff"]},"legend":null}}},
{"mark":{"type":"line","opacity":0},"encoding":{
"x":{"field":"x","type":"quantitative","scale":{"domain":[0,1],"nice":false},"axis":{"orient":"top","title":null,"labels":false,"values":[0,0.0333,0.0667,0.1,0.1333,0.1667,0.2,0.2333,0.2667,0.3,0.3333,0.3667,0.4,0.4333,0.4667,0.5,0.5333,0.5667,0.6,0.6333,0.6667,0.7,0.7333,0.7667,0.8,0.8333,0.8667,0.9,0.9333,0.9667,1],"tickSize":{"condition":{"test":"abs(datum.value*5-round(datum.value*5))<0.001","value":-5},"value":-3}}},
"y":{"field":"y","type":"quantitative","scale":{"domain":[0,0.1],"nice":false},"axis":{"orient":"right","title":null,"labels":false,"values":[0,0.00286,0.00571,0.00857,0.01143,0.01429,0.01714,0.02,0.02286,0.02571,0.02857,0.03143,0.03429,0.03714,0.04,0.04286,0.04571,0.04857,0.05143,0.05429,0.05714,0.06,0.06286,0.06571,0.06857,0.07143,0.07429,0.07714,0.08,0.08286,0.08571,0.08857,0.09143,0.09429,0.09714,0.1],"tickSize":{"condition":{"test":"abs(datum.value*50-round(datum.value*50))<0.001","value":-5},"value":-3}}},
"detail":{"field":"s"}}}
],"resolve":{"axis":{"x":"independent","y":"independent"}}}
]
}
